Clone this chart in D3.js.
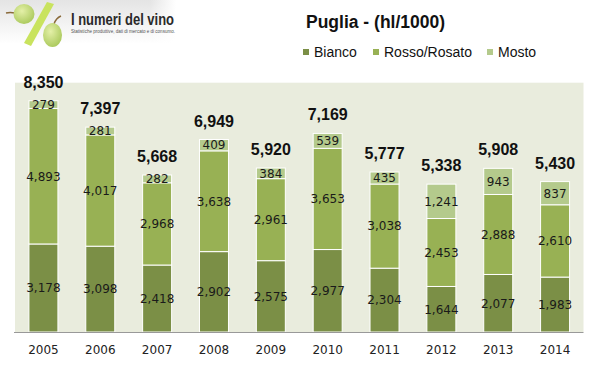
<!DOCTYPE html>
<html>
<head>
<meta charset="utf-8">
<script src="https://d3js.org/d3.v7.min.js"></script>
<style>
  body { margin: 0; background: #fff; }
  svg { display: block; }
</style>
</head>
<body>
<script>
// values in hl/1000
var years  = ["2005","2006","2007","2008","2009","2010","2011","2012","2013","2014"];
var bianco = [3178, 3098, 2418, 2902, 2575, 2977, 2304, 1644, 2077, 1983];
var rosso  = [4893, 4017, 2968, 3638, 2961, 3653, 3038, 2453, 2888, 2610];
var mosto  = [279, 281, 282, 409, 384, 539, 435, 1241, 943, 837];
var totals = [8350, 7397, 5668, 6949, 5920, 7169, 5777, 5338, 5908, 5430];
var seriesNames = ["Bianco", "Rosso/Rosato", "Mosto"];
var colors = ["#7b8f46", "#98b154", "#b4ca8c"];

var width = 599, height = 366;
var plot = {left: 15, right: 583.5, top: 82.7, bottom: 332};

var svg = d3.select("body").append("svg")
    .attr("width", width)
    .attr("height", height);

// ---- logo (top left) ----
var defs = svg.append("defs");
var grad = defs.append("linearGradient").attr("id", "logoBg")
    .attr("x1", 0).attr("y1", 0).attr("x2", 0).attr("y2", 1);
grad.append("stop").attr("offset", "0%").attr("stop-color", "#e4e4e4");
grad.append("stop").attr("offset", "100%").attr("stop-color", "#ffffff");
var gradR = defs.append("linearGradient").attr("id", "logoFade")
    .attr("x1", 0).attr("y1", 0).attr("x2", 1).attr("y2", 0);
gradR.append("stop").attr("offset", "0%").attr("stop-color", "#fff").attr("stop-opacity", 0);
gradR.append("stop").attr("offset", "100%").attr("stop-color", "#fff").attr("stop-opacity", 1);
var grape = defs.append("radialGradient").attr("id", "grape")
    .attr("cx", 0.4).attr("cy", 0.35).attr("r", 0.7);
grape.append("stop").attr("offset", "0%").attr("stop-color", "#e4f0a8");
grape.append("stop").attr("offset", "100%").attr("stop-color", "#a9c85a");

var logo = svg.append("g");
logo.append("rect").attr("x", 0).attr("y", 0).attr("width", 176).attr("height", 44)
    .attr("fill", "url(#logoBg)");
logo.append("rect").attr("x", 150).attr("y", 0).attr("width", 26).attr("height", 44)
    .attr("fill", "url(#logoFade)");
// stems
logo.append("path").attr("d", "M15,13 Q10,12 6,13")
    .attr("stroke", "#8a6a3a").attr("stroke-width", 1.5).attr("fill", "none");
logo.append("path").attr("d", "M54,24 Q56,18 61,16")
    .attr("stroke", "#8a6a3a").attr("stroke-width", 1.5).attr("fill", "none");
logo.append("ellipse").attr("cx", 24).attr("cy", 14).attr("rx", 10.5).attr("ry", 10)
    .attr("fill", "url(#grape)");
// slash of the percent sign
logo.append("path").attr("d", "M47,2 L54,4 L31,46 L24,43 Z")
    .attr("fill", "#c9e35e");
logo.append("ellipse").attr("cx", 52.5).attr("cy", 35).attr("rx", 9.5).attr("ry", 12)
    .attr("fill", "url(#grape)");
logo.append("text").attr("x", 71).attr("y", 25)
    .attr("font-family", "Liberation Sans, Arial, sans-serif")
    .attr("font-size", 16).attr("font-weight", "bold").attr("fill", "#2a2a2a")
    .attr("textLength", 103).attr("lengthAdjust", "spacingAndGlyphs")
    .text("I numeri del vino");
logo.append("text").attr("x", 71).attr("y", 33)
    .attr("font-family", "Liberation Sans, Arial, sans-serif")
    .attr("font-size", 4.6).attr("fill", "#555")
    .attr("textLength", 104).attr("lengthAdjust", "spacingAndGlyphs")
    .text("Statistiche produttive, dati di mercato e di consumo.");

// ---- title & legend ----
svg.append("text").attr("x", 306).attr("y", 28)
    .attr("font-family", "Liberation Sans, Arial, sans-serif")
    .attr("font-weight", "bold").attr("font-size", 17.5).attr("fill", "#111")
    .text("Puglia - (hl/1000)");

var legendX = [303, 373, 487];
var legend = svg.append("g").selectAll("g")
    .data(seriesNames).enter().append("g")
    .attr("transform", function(d, i) { return "translate(" + legendX[i] + ",0)"; });
legend.append("rect").attr("x", 0).attr("y", 49).attr("width", 6).attr("height", 6)
    .attr("fill", function(d, i) { return colors[i]; });
legend.append("text").attr("x", 11).attr("y", 57)
    .attr("font-family", "Liberation Sans, Arial, sans-serif")
    .attr("font-size", 14).attr("fill", "#111")
    .text(function(d) { return d; });

// ---- chart ----
var xScale = d3.scaleBand()
    .domain(years)
    .range([plot.left, plot.right])
    .paddingInner(0.49)
    .paddingOuter(0.245);
var yScale = d3.scaleLinear()
    .domain([0, 9000])
    .range([plot.bottom, plot.top]);

svg.append("rect")
    .attr("x", plot.left).attr("y", plot.top)
    .attr("width", plot.right - plot.left).attr("height", plot.bottom - plot.top)
    .attr("fill", "#e9ecdd");

var rows = years.map(function(y, i) {
  return {year: y, Bianco: bianco[i], "Rosso/Rosato": rosso[i], Mosto: mosto[i], total: totals[i]};
});
var stacked = d3.stack().keys(seriesNames)(rows);

var layer = svg.append("g").selectAll("g")
    .data(stacked).enter().append("g")
    .attr("fill", function(d, i) { return colors[i]; });

layer.selectAll("rect")
    .data(function(d) { return d; })
    .enter().append("rect")
    .attr("x", function(d) { return xScale(d.data.year); })
    .attr("y", function(d) { return yScale(d[1]); })
    .attr("width", xScale.bandwidth())
    .attr("height", function(d) { return yScale(d[0]) - yScale(d[1]); })
    .attr("stroke", "#fff")
    .attr("stroke-width", 1);

layer.selectAll("text")
    .data(function(d) { return d; })
    .enter().append("text")
    .attr("x", function(d) { return xScale(d.data.year) + xScale.bandwidth() / 2; })
    .attr("y", function(d) { return (yScale(d[0]) + yScale(d[1])) / 2; })
    .attr("dy", "0.36em")
    .attr("text-anchor", "middle")
    .attr("font-family", "DejaVu Sans, Verdana, sans-serif")
    .attr("font-size", 12)
    .attr("fill", "#1a1a1a")
    .text(function(d) { return d3.format(",")(d[1] - d[0]); });

// totals above bars
svg.append("g").selectAll("text")
    .data(rows).enter().append("text")
    .attr("x", function(d) { return xScale(d.year) + xScale.bandwidth() / 2; })
    .attr("y", function(d, i) { return yScale(bianco[i] + rosso[i] + mosto[i]) - 13; })
    .attr("text-anchor", "middle")
    .attr("font-family", "Liberation Sans, Arial, sans-serif")
    .attr("font-weight", "bold")
    .attr("font-size", 16)
    .attr("fill", "#111")
    .text(function(d) { return d3.format(",")(d.total); });

// axis-x
var axis = svg.append("g")
    .attr("transform", "translate(0," + plot.bottom + ")")
    .call(d3.axisBottom(xScale).tickSize(0).tickPadding(13));
axis.select(".domain").attr("stroke", "#999").attr("d", "M" + (plot.left - 1) + ",0.5H" + plot.right);
axis.selectAll("text")
    .attr("font-family", "DejaVu Sans, Verdana, sans-serif")
    .attr("font-size", 12)
    .attr("fill", "#222");
</script>
</body>
</html>
